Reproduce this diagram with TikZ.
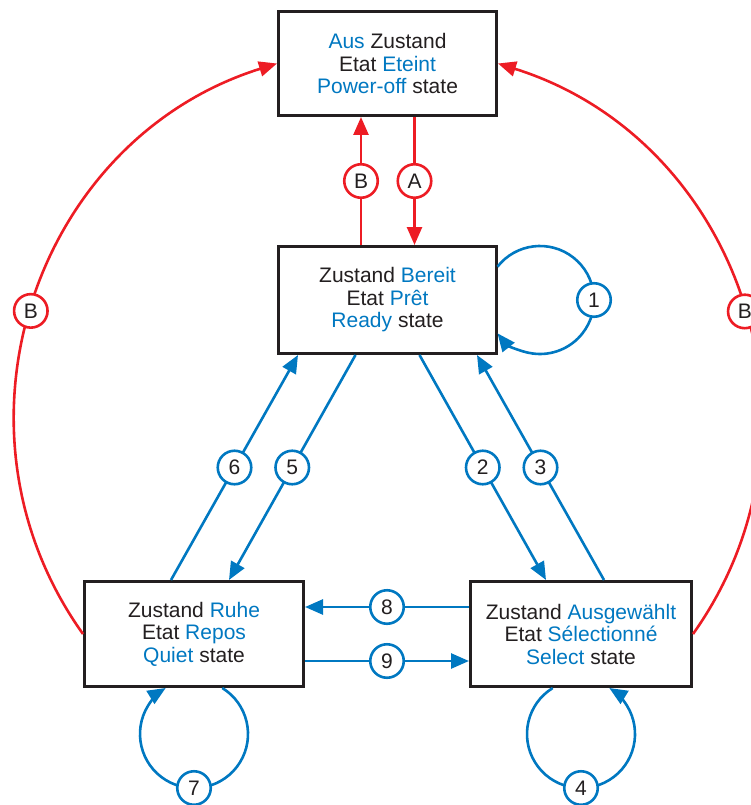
\documentclass[tikz,border=0pt]{standalone}
\usepackage{fontspec}
\setmainfont{Liberation Sans}
\usetikzlibrary{arrows.meta,calc}
\definecolor{cblue}{RGB}{0,120,193}
\definecolor{cred}{RGB}{237,28,36}
\definecolor{ink}{RGB}{35,31,32}
\newcommand{\bl}[1]{\textcolor{cblue}{#1}}
\begin{document}
\begin{tikzpicture}[x=1pt,y=1pt,
  state/.style={draw=ink, line width=3pt, fill=white, minimum width=218pt,
    minimum height=104pt, align=center, inner sep=0pt, text=ink,
    font=\fontsize{21}{22.5}\selectfont},
  bluearrow/.style={draw=cblue, line width=2.6pt, -{Triangle[length=18pt,width=15pt]}},
  redarrow/.style={draw=cred, line width=2.6pt, -{Triangle[length=18pt,width=15pt]}},
  lab/.style={circle, draw=cblue, fill=white, line width=2.6pt, minimum size=33.5pt,
    inner sep=0pt, text=ink, font=\fontsize{21}{21}\selectfont},
  labred/.style={lab, draw=cred}]
\useasboundingbox (0,0) rectangle (750,-805);

% states
\node[state] (top) at (387.5,-63.5) {\bl{Aus} Zustand\\Etat \bl{Eteint}\\\bl{Power-off} state};
\node[state, minimum height=107pt] (ready) at (387.5,-300) {Zustand \bl{Bereit}\\Etat \bl{Prêt}\\\bl{Ready} state};
\node[state, minimum height=105pt, minimum width=219pt] (quiet) at (194,-634) {Zustand \bl{Ruhe}\\Etat \bl{Repos}\\\bl{Quiet} state};
\node[state, minimum height=105pt, minimum width=221pt] (select) at (581,-634) {Zustand \bl{Ausgewählt}\\Etat \bl{Sélectionné}\\\bl{Select} state};

% red transitions
\draw[redarrow] ([xshift=-26.5pt]ready.north) -- ([xshift=-26.5pt]top.south) node[midway, labred] {B};
\draw[redarrow] ([xshift=27pt]top.south) -- ([xshift=27pt]ready.north) node[midway, labred] {A};
\draw[redarrow] (quiet.west) to[out=125.5, in=197.4, distance=253pt] node[pos=0.483, labred] {B} (top.west);
\draw[redarrow] (select.east) to[out=54.6, in=-17.4, distance=253pt] node[pos=0.482, labred] {B} (top.east);

% blue diagonals
\draw[bluearrow] ([xshift=-32pt]ready.south) -- ([xshift=35pt]quiet.north) node[midway, lab] {5};
\draw[bluearrow] ([xshift=-23pt]quiet.north) -- ([xshift=-89.5pt]ready.south) node[midway, lab] {6};
\draw[bluearrow] ([xshift=32pt]ready.south) -- ([xshift=-35pt]select.north) node[midway, lab] {2};
\draw[bluearrow] ([xshift=23pt]select.north) -- ([xshift=89.5pt]ready.south) node[midway, lab] {3};

% horizontals
\draw[bluearrow] ([yshift=27pt]select.west) -- ([yshift=27pt]quiet.east) node[midway, lab] {8};
\draw[bluearrow] ([yshift=-27pt]quiet.east) -- ([yshift=-27pt]select.west) node[midway, lab] {9};

% self loops
\coordinate (c1) at ($(ready.center)+(152.5,0)$);
\coordinate (c7) at ($(quiet.south)+(0,-46)$);
\coordinate (c4) at ($(select.south)+(0,-46)$);
\draw[bluearrow] ([shift={(141.9:54)}]c1) arc[start angle=141.9, end angle=-141.9, radius=54];
\node[lab] (l1) at ([shift={(0:54)}]c1) {1};
\draw[bluearrow] ([shift={(58.4:54)}]c7) arc[start angle=58.4, end angle=-238.4, radius=54];
\node[lab] (l7) at ([shift={(-90:54)}]c7) {7};
\draw[bluearrow] ([shift={(121.6:54)}]c4) arc[start angle=121.6, end angle=418.4, radius=54];
\node[lab] (l4) at ([shift={(-90:54)}]c4) {4};
\end{tikzpicture}
\end{document}
